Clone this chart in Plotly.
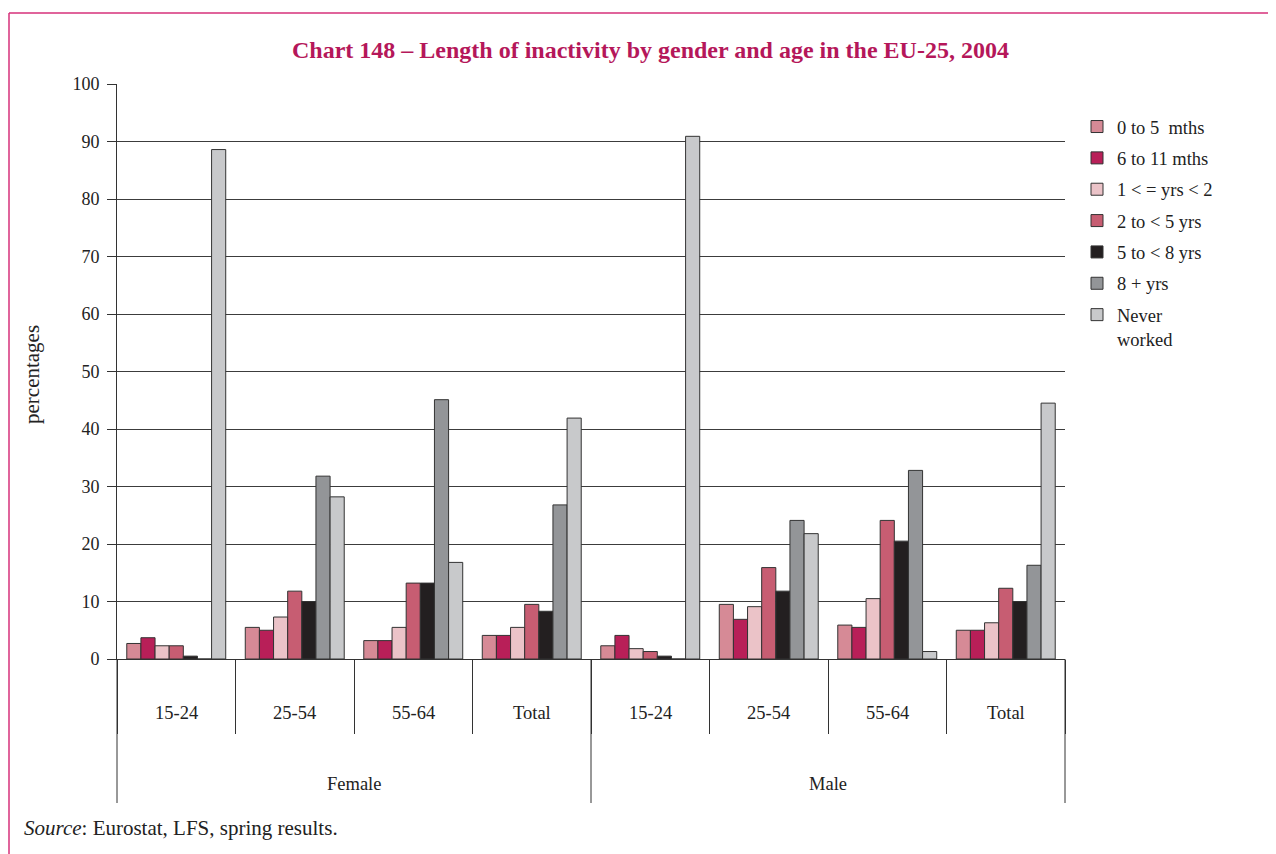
import plotly.graph_objects as go

genders = ["Female", "Male"]
ages = ["15-24", "25-54", "55-64", "Total"]
series_names = ["0 to 5  mths", "6 to 11 mths", "1 < = yrs < 2", "2 to < 5 yrs",
                "5 to < 8 yrs", "8 + yrs", "Never<br>worked"]
series_colors = ["#d68a96", "#b81f58", "#ebc3c8", "#c75d72", "#231f20", "#939598", "#c8c9cb"]

# values per series, order: Female 15-24, 25-54, 55-64, Total, Male 15-24, 25-54, 55-64, Total
v_0_5m = [2.7, 5.5, 3.2, 4.1, 2.3, 9.5, 5.9, 5.0]
v_6_11m = [3.7, 5.0, 3.2, 4.1, 4.1, 6.9, 5.5, 5.0]
v_1_2y = [2.3, 7.3, 5.5, 5.5, 1.8, 9.1, 10.5, 6.3]
v_2_5y = [2.3, 11.8, 13.2, 9.5, 1.3, 15.9, 24.1, 12.3]
v_5_8y = [0.5, 10.0, 13.2, 8.3, 0.5, 11.8, 20.5, 10.0]
v_8p = [0.0, 31.8, 45.1, 26.8, 0.0, 24.1, 32.8, 16.3]
v_never = [88.6, 28.2, 16.8, 41.9, 90.9, 21.8, 1.3, 44.5]
series_values = [v_0_5m, v_6_11m, v_1_2y, v_2_5y, v_5_8y, v_8p, v_never]

y_ticks = [0, 10, 20, 30, 40, 50, 60, 70, 80, 90, 100]

title_text = "Chart 148 – Length of inactivity by gender and age in the EU-25, 2004"
source_text = "<i>Source</i>: Eurostat, LFS, spring results."

cats = [f"{g} {a}" for g in genders for a in ages]
age_labels = [a for g in genders for a in ages]

SERIF = "Liberation Serif, Times New Roman, serif"
OFF = 8  # page body margin
W, H = 1276 - OFF, 854 - OFF
PL, PT, PR, PB = 117, 84, 1065, 659  # plot area in window pixels
L, T = PL - OFF, PT - OFF
R, B = W - (PR - OFF), H - (PB - OFF)
pw, ph = PR - PL, PB - PT


def px_x(p):
    return (p - PL) / pw


def px_y(p):
    return (PB - p) / ph


fig = go.Figure()
for i, (name, col, vals) in enumerate(zip(series_names, series_colors, series_values)):
    fig.add_trace(go.Bar(
        x=cats, y=vals, name=name, legendgroup=f"g{i}",
        marker=dict(color=col, line=dict(color="#333333", width=1)),
    ))

annotations = []
annotations.append(dict(text=f"<b>{title_text}</b>", x=px_x(650), y=px_y(50), xref="paper", yref="paper",
                        showarrow=False, font=dict(family=SERIF, size=24, color="#b5175a"),
                        xanchor="center", yanchor="middle"))
annotations.append(dict(text="percentages", x=px_x(32), y=px_y(375), xref="paper", yref="paper",
                        showarrow=False, textangle=-90, font=dict(family=SERIF, size=21, color="#222"),
                        xanchor="center", yanchor="middle"))
annotations.append(dict(text=source_text, x=px_x(22), y=px_y(828), xref="paper", yref="paper",
                        showarrow=False, font=dict(family=SERIF, size=21, color="#222"),
                        xanchor="left", yanchor="middle"))
for c, a in zip(cats, age_labels):
    annotations.append(dict(text=a, x=c, y=px_y(713), xref="x", yref="paper", showarrow=False,
                            font=dict(family=SERIF, size=18.5, color="#222"), xanchor="center", yanchor="middle"))
for gi, g in enumerate(genders):
    annotations.append(dict(text=g, x=0.25 + 0.5 * gi, y=px_y(784), xref="x domain", yref="paper",
                            showarrow=False, font=dict(family=SERIF, size=18.5, color="#222"),
                            xanchor="center", yanchor="middle"))

shapes = []
for xd in [0, 0.5, 1]:
    shapes.append(dict(type="line", xref="x domain", yref="paper", x0=xd, x1=xd, y0=0, y1=px_y(803),
                       line=dict(color="#333333", width=1)))
# pink frame
frame_col = "#d6307a"
shapes.append(dict(type="line", xref="paper", yref="paper", x0=px_x(9), x1=px_x(1290), y0=px_y(13), y1=px_y(13),
                   line=dict(color=frame_col, width=1.5)))
shapes.append(dict(type="line", xref="paper", yref="paper", x0=px_x(9), x1=px_x(9), y0=px_y(13), y1=px_y(870),
                   line=dict(color=frame_col, width=1.5)))

fig.update_layout(
    width=W, height=H, autosize=False,
    margin=dict(l=L, r=R, t=T, b=B, pad=0),
    paper_bgcolor="white", plot_bgcolor="white",
    barmode="group", bargap=0.165, bargroupgap=0,
    font=dict(family=SERIF, size=18, color="#222"),
    showlegend=True,
    legend=dict(x=px_x(1077), y=px_y(108), xanchor="left", yanchor="top",
                font=dict(family=SERIF, size=18.5, color="#222"),
                traceorder="grouped", tracegroupgap=4.3, valign="top",
                bgcolor="rgba(0,0,0,0)", itemwidth=30),
    annotations=annotations,
    shapes=shapes,
    xaxis=dict(type="category", categoryorder="array", categoryarray=cats,
               showticklabels=False, ticks="outside", tickson="boundaries", ticklen=74,
               tickcolor="#333333", tickwidth=1, showgrid=False, showline=True,
               linecolor="#333333", linewidth=1, zeroline=False),
    yaxis=dict(range=[0, 100], tickvals=y_ticks, ticks="outside", ticklen=9, tickcolor="#333333",
               ticklabelstandoff=4,
               showgrid=True, gridcolor="#3c3c3c", gridwidth=1, showline=True, linecolor="#333333",
               linewidth=1, zeroline=False, tickfont=dict(family=SERIF, size=18, color="#222")),
)

fig.write_html("out.html")
